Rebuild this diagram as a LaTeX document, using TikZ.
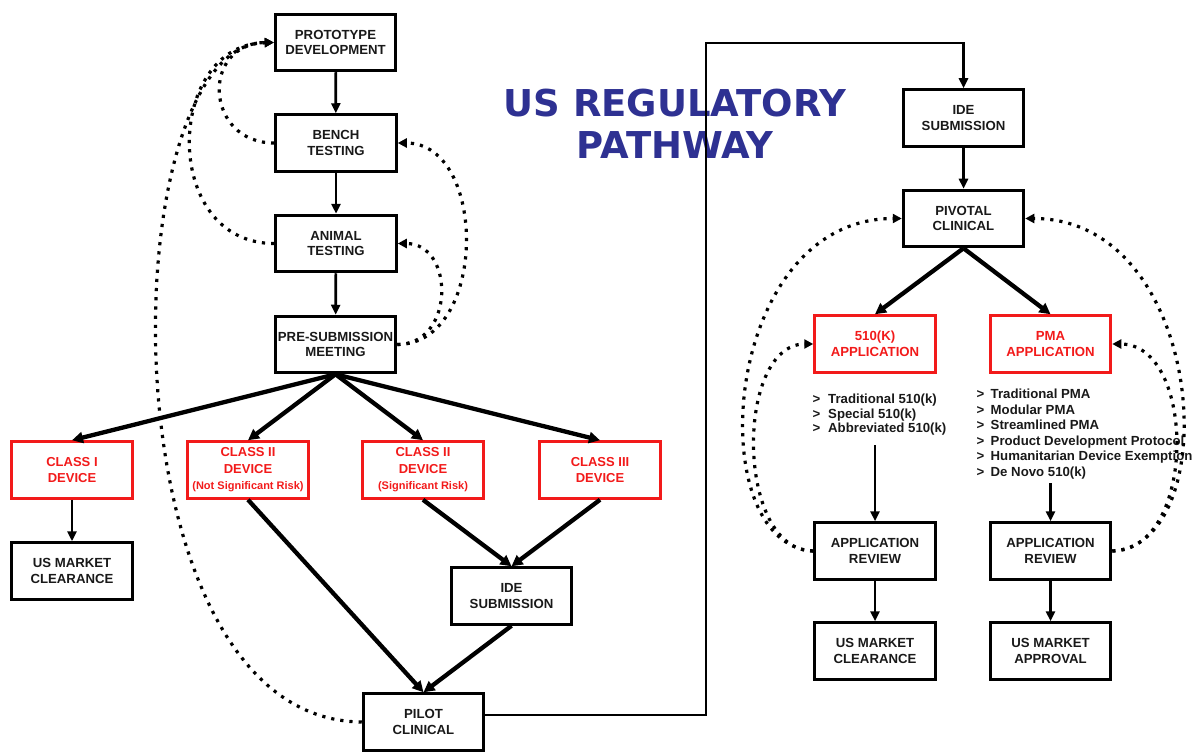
\documentclass[tikz,border=0pt]{standalone}
\usepackage{fontspec}
\setmainfont{Liberation Sans}
\newfontfamily\titlefont{DejaVu Sans}
\usetikzlibrary{arrows.meta}
\definecolor{navy}{HTML}{2E3192}
\definecolor{redc}{HTML}{F21A1A}
\begin{document}
\begin{tikzpicture}[x=1pt,y=-1pt,
 box/.style={draw=black, line width=3pt, minimum width=120.5pt, minimum height=56.5pt, inner sep=0pt, align=center, font=\fontsize{13.2}{15.5}\selectfont\bfseries, text=black!90},
 redbox/.style={box, draw=redc, text=redc, font=\fontsize{13}{16.5}\selectfont\bfseries},
 redwide/.style={box, draw=redc, text=redc},
 arr/.style={line width=2.7pt, -{Triangle[length=10pt,width=9pt]}},
 tarr/.style={line width=4.3pt, -{Triangle[length=11pt,width=11pt]}},
 dotarr/.style={line width=3.2pt, dash pattern=on 3.2pt off 6pt, -{Triangle[length=9pt,width=9pt]}},
 listtxt/.style={anchor=base west, inner sep=0pt, font=\fontsize{13.2}{15}\selectfont\bfseries, text=black!90}
]
\useasboundingbox (0,0) rectangle (1193,754);

\node[font=\titlefont\bfseries\fontsize{37}{42}\selectfont, text=navy, align=center] (title) at (675,124) {US REGULATORY\\PATHWAY};

% left column
\node[box] (proto) at (335.5,42.5) {PROTOTYPE\\DEVELOPMENT};
\node[box] (bench) at (336,143) {BENCH\\TESTING};
\node[box] (animal) at (336,243.5) {ANIMAL\\TESTING};
\node[box] (presub) at (335.5,344.5) {PRE-SUBMISSION\\MEETING};

\node[redbox] (c1) at (72,470) {CLASS I\\DEVICE};
\node[redbox] (c2n) at (248,470) {CLASS II\\DEVICE\\{\fontsize{11}{13}\selectfont (Not Significant Risk)}};
\node[redbox] (c2s) at (423,470) {CLASS II\\DEVICE\\{\fontsize{11}{13}\selectfont (Significant Risk)}};
\node[redbox] (c3) at (600,470) {CLASS III\\DEVICE};

\node[box] (usm1) at (72,571) {US MARKET\\CLEARANCE};
\node[box] (ide1) at (511.5,596) {IDE\\SUBMISSION};
\node[box] (pilot) at (423.5,722) {PILOT\\CLINICAL};

% right column
\node[box] (ide2) at (963.5,118) {IDE\\SUBMISSION};
\node[box] (pivotal) at (963.5,218.5) {PIVOTAL\\CLINICAL};
\node[redwide] (k510) at (875,344) {510(K)\\APPLICATION};
\node[redwide] (pma) at (1050.5,344) {PMA\\APPLICATION};
\node[box] (rev1) at (875,551) {APPLICATION\\REVIEW};
\node[box] (rev2) at (1050.5,551) {APPLICATION\\REVIEW};
\node[box] (usm2) at (875,651) {US MARKET\\CLEARANCE};
\node[box] (usapp) at (1050.5,651) {US MARKET\\APPROVAL};

% lists
\node[listtxt] (ka) at (812.5,403.5) {\makebox[15.5pt][l]{>}Traditional 510(k)};
\node[listtxt] (kb) at (812.5,418) {\makebox[15.5pt][l]{>}Special 510(k)};
\node[listtxt] (kc) at (812.5,432.5) {\makebox[15.5pt][l]{>}Abbreviated 510(k)};
\node[listtxt] (pa) at (976.5,398.5) {\makebox[14pt][l]{>}Traditional PMA};
\node[listtxt] (pb) at (976.5,414) {\makebox[14pt][l]{>}Modular PMA};
\node[listtxt] (pc) at (976.5,429.5) {\makebox[14pt][l]{>}Streamlined PMA};
\node[listtxt] (pd) at (976.5,445) {\makebox[14pt][l]{>}Product Development Protocol};
\node[listtxt] (pe) at (976.5,460.5) {\makebox[14pt][l]{>}Humanitarian Device Exemption};
\node[listtxt] (pf) at (976.5,476.5) {\makebox[14pt][l]{>}De Novo 510(k)};
\coordinate (l1end) at (875,445);
\coordinate (l2end) at (1050.5,483);
\coordinate (bendA) at (706,43);

% solid connectors
\draw[arr] (proto) -- (bench);
\draw[arr] (bench) -- (animal);
\draw[arr] (animal) -- (presub);
\draw[arr] (c1) -- (usm1);
\draw[tarr] (presub.south) -- (c1.north);
\draw[tarr] (presub.south) -- (c2n.north);
\draw[tarr] (presub.south) -- (c2s.north);
\draw[tarr] (presub.south) -- (c3.north);
\draw[tarr] (c2n.south) -- (pilot.north);
\draw[tarr] (ide1.south) -- (pilot.north);
\draw[tarr] (c2s.south) -- (ide1.north);
\draw[tarr] (c3.south) -- (ide1.north);
\draw[arr] ([yshift=7pt]pilot.east) -| (bendA) -| (ide2.north);
\draw[arr] (ide2) -- (pivotal);
\draw[tarr] (pivotal.south) -- (k510.north);
\draw[tarr] (pivotal.south) -- (pma.north);
\draw[arr] (l1end) -- (rev1);
\draw[arr] (l2end) -- (rev2);
\draw[arr] (rev1) -- (usm2);
\draw[arr] (rev2) -- (usapp);

% dotted feedback loops
\draw[dotarr] (pilot.west) .. controls (100,720) and (110,42.5) .. (proto.west);
\draw[dotarr] (bench.west) .. controls (205,143) and (200,44) .. (proto.west);
\draw[dotarr] (animal.west) .. controls (160,243.5) and (165,44) .. (proto.west);
\draw[dotarr] (presub.east) .. controls (488,344.5) and (488,143) .. (bench.east);
\draw[dotarr] (presub.east) .. controls (455,344.5) and (455,243.5) .. (animal.east);
\draw[dotarr] (rev1.west) .. controls (735,551) and (735,344) .. (k510.west);
\draw[dotarr] (rev1.west) .. controls (700,545) and (720,218.5) .. (pivotal.west);
\draw[dotarr] (rev2.east) .. controls (1197,551) and (1197,344) .. (pma.east);
\draw[dotarr] (rev2.east) .. controls (1227,545) and (1207,218.5) .. (pivotal.east);
\end{tikzpicture}
\end{document}
